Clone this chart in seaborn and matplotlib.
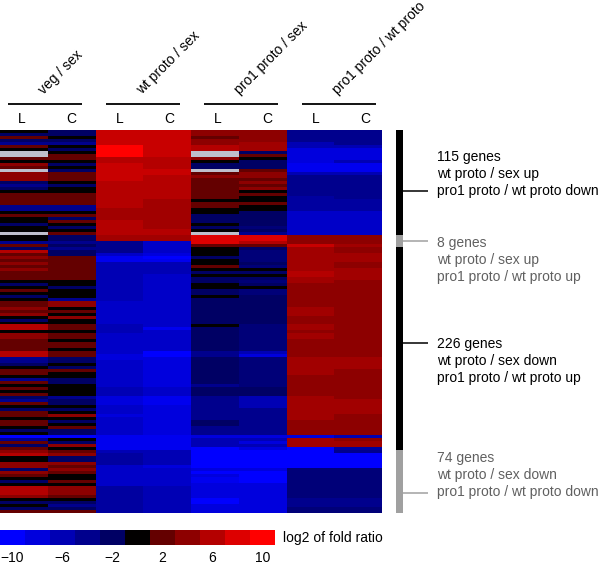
import numpy as np
import matplotlib
matplotlib.use('Agg')
import matplotlib.pyplot as plt
from matplotlib.colors import ListedColormap, LinearSegmentedColormap
import seaborn as sns

nan = np.nan

# log2 fold ratio per row (top to bottom)
veg_L = [0,-2,2,-2,-4,2,0,nan,nan,2,0,4,2,nan,4,4,4,-2,-4,-2,0,
         2,2,2,2,-4,-4,0,2,0,0,-2,0,0,nan,0,0,-4,2,-2,6,2,4,
         2,4,2,4,2,2,2,0,-2,0,2,0,-2,0,2,2,4,2,4,0,-2,0,
         6,6,0,4,4,2,2,2,2,6,6,-4,-4,-2,0,2,2,0,-4,2,0,
         2,0,2,-2,-4,2,0,-2,2,2,0,2,2,0,-2,0,-10,-4,2,-2,2,4,
         6,0,0,4,4,-2,4,2,0,-2,0,6,6,6,4,0,-2,0,-2,2]
veg_C = [-2,-2,0,-2,-4,0,-2,0,2,2,0,-2,0,-2,2,2,2,0,-2,0,0,
         2,2,2,2,-4,-4,0,2,-2,2,0,-2,0,2,-2,-2,-4,-2,-4,-2,-2,2,
         2,2,2,2,2,2,2,0,0,-2,0,0,0,-4,4,4,0,2,0,4,0,0,
         2,2,0,2,2,0,2,2,0,2,2,-2,-2,0,-2,2,0,0,-2,-2,0,
         0,0,0,-4,-2,-2,0,-2,0,4,0,-2,0,2,-2,-2,-10,0,-2,4,0,2,
         4,-2,-2,4,2,4,2,0,0,2,0,4,4,4,2,0,-2,-4,-2,2]
wt_L = [7,7,7,7,7,10,10,10,10,6,6,7,7,7,7,7,7,6,6,6,6,
        6,6,6,6,6,5,5,5,5,6,6,6,6,6,5,5,-4,-4,-4,-4,-7,-9,
        -9,-6,-6,-6,-6,-6,-6,-6,-6,-6,-6,-6,-6,-6,-7,-7,-7,-7,-7,-7,-7,-7,
        -6,-6,-6,-7,-7,-7,-7,-7,-7,-7,-8,-8,-7,-7,-7,-7,-7,-7,-7,-7,-7,
        -6,-6,-6,-8,-8,-8,-7,-7,-7,-8,-7,-7,-7,-7,-7,-7,-9,-9,-9,-9,-9,-6,
        -5,-5,-5,-5,-7,-7,-7,-7,-7,-7,-7,-5,-5,-5,-5,-5,-5,-5,-5,-5]
wt_C = [7,7,7,7,7,7,7,7,7,6,6,6,6,7,7,6,6,6,6,6,6,
        6,6,5,5,5,5,5,5,5,5,5,5,6,6,5,5,-7,-7,-7,-7,-8,-10,
        -9,-6,-6,-6,-6,-7,-7,-7,-7,-7,-7,-7,-7,-7,-7,-7,-7,-7,-7,-7,-7,-7,
        -7,-9,-7,-7,-7,-7,-7,-7,-7,-10,-10,-8,-8,-8,-8,-8,-8,-8,-8,-8,-8,
        -7,-7,-7,-9,-9,-9,-8,-8,-8,-8,-8,-8,-8,-8,-8,-8,-9,-9,-9,-9,-9,-6,
        -6,-6,-6,-6,-8,-7,-7,-7,-7,-7,-7,-6,-6,-6,-6,-6,-6,-6,-6,-6]
pro1_L = [4,4,2,4,4,6,6,nan,nan,4,0,-2,-2,nan,2,4,2,2,2,2,2,
          2,2,0,2,2,0,0,-2,-2,-2,0,-2,0,nan,8,8,8,2,0,0,0,-2,
          0,0,2,0,-2,0,-2,-2,0,0,-2,-2,0,-2,-2,-2,-2,-2,-2,-2,-2,-2,
          0,-2,-2,-2,-2,-2,-2,-2,-2,-4,-4,-2,-2,-2,-2,-2,-2,-2,-2,-2,-4,
          -2,-2,-2,-4,-4,-4,-4,-4,-4,-4,-4,-2,-2,-4,-4,-4,-8,-6,-6,-6,-10,-10,
          -10,-10,-10,-10,-10,-8,-10,-8,-9,-9,-8,-8,-8,-8,-8,-10,-10,-8,-8,-8]
pro1_C = [4,4,4,4,5,5,5,-2,2,0,-2,-2,-2,2,4,4,2,4,2,4,0,
          2,0,0,2,0,0,-2,-2,-2,-2,-2,-3,-2,-4,8,8,6,2,-2,-3,-3,-3,
          -3,-2,-3,0,-2,0,-2,-3,-2,0,-3,-3,-2,-2,-2,-2,-2,-2,-2,-2,-2,-2,
          -3,-3,-3,-3,-3,-3,-3,-3,-3,-6,-8,-3,-3,-3,-3,-3,-3,-3,-3,-3,-3,
          -2,-2,-2,-6,-6,-6,-6,-4,-4,-4,-4,-4,-4,-4,-4,-4,-8,-6,-8,-6,-8,-10,
          -10,-10,-10,-10,-10,-8,-10,-10,-10,-10,-8,-8,-8,-8,-8,-8,-8,-8,-8,-8]
pro1wt_L = [-4,-4,-4,-4,-6,-6,-8,-8,-8,-8,-8,-9,-9,-9,-6,-4,-4,-4,-4,-4,-4,
            -4,-5,-5,-5,-5,-5,-7,-7,-7,-7,-7,-7,-7,-7,4,4,4,7,5,5,5,5,
            5,5,5,5,6,6,5,5,4,4,4,4,4,4,4,4,5,5,5,4,4,4,
            5,5,4,5,5,4,4,4,4,4,4,5,5,5,5,5,5,4,4,4,4,
            4,4,4,5,5,5,5,5,5,5,5,4,4,4,4,4,-8,5,5,5,-10,-10,
            -10,-10,-10,-10,-10,-3,-3,-3,-3,-3,-3,-3,-3,-3,-3,-4,-4,-4,-3,-3]
pro1wt_C = [-4,-4,-4,-4,-4,-6,-8,-8,-8,-8,-6,-9,-9,-9,-6,-4,-4,-4,-4,-4,-4,
            -4,-4,-5,-5,-5,-5,-7,-7,-7,-7,-7,-7,-7,-7,4,4,4,5,4,4,5,5,
            5,4,4,5,5,5,5,4,4,4,4,4,4,4,4,4,4,4,4,4,4,4,
            4,4,4,4,4,4,4,4,4,4,4,5,5,5,5,4,4,4,4,4,4,
            4,4,4,4,5,5,5,5,5,4,4,4,4,4,4,4,-6,4,5,5,-5,-4,
            -10,-10,-10,-10,-10,-3,-3,-3,-3,-3,-3,-3,-3,-3,-3,-4,-4,-4,-3,-3]

columns = [veg_L, veg_C, wt_L, wt_C, pro1_L, pro1_C, pro1wt_L, pro1wt_C]
group_names = ['veg / sex', 'wt proto / sex', 'pro1 proto / sex', 'pro1 proto / wt proto']
scale_levels = [-10, -8, -6, -4, -2, 0, 2, 4, 6, 8, 10]
scale_ticks = [-10, -6, -2, 2, 6, 10]
cluster_rows = [35, 4, 68, 21]  # heatmap rows in each cluster
cluster_text = [['115 genes', 'wt proto / sex up', 'pro1 proto / wt proto down'],
                ['8 genes', 'wt proto / sex up', 'pro1 proto / wt proto up'],
                ['226 genes', 'wt proto / sex down', 'pro1 proto / wt proto up'],
                ['74 genes', 'wt proto / sex down', 'pro1 proto / wt proto down']]

W, H = 600, 567
plt.rcParams['font.family'] = ['Liberation Sans', 'DejaVu Sans']
fig = plt.figure(figsize=(W / 100, H / 100), dpi=100)


def pix_axes(x0, y0, x1, y1):
    return fig.add_axes([x0 / W, 1 - y1 / H, (x1 - x0) / W, (y1 - y0) / H])


# blue - black - red, same colours at the scale levels
steps = [255, 220, 180, 140, 100]
colors = [(0, 0, s / 255) for s in steps] + [(0, 0, 0)] + [(s / 255, 0, 0) for s in steps[::-1]]
cmap = LinearSegmentedColormap.from_list('fold', [((lv + 10) / 20, c) for lv, c in zip(scale_levels, colors)], N=256)
cmap.set_bad((0.75, 0.75, 0.8))

# main heatmap
ax = pix_axes(0, 130, 382, 513)
matrix = np.array(columns, dtype=float).T
sns.heatmap(matrix, ax=ax, cmap=cmap, vmin=-10, vmax=10, cbar=False,
            xticklabels=False, yticklabels=False)

# cluster strip on the right
ax_side = pix_axes(396, 130, 403, 513)
strip = np.repeat([0, 1, 0, 1], cluster_rows).reshape(-1, 1)
sns.heatmap(strip, ax=ax_side, cmap=ListedColormap(['black', '#a0a0a0']), cbar=False,
            xticklabels=False, yticklabels=False)

# colour scale
ax_bar = pix_axes(0, 530, 275, 545)
sns.heatmap(np.array([scale_levels]), ax=ax_bar, cmap=cmap, vmin=-10, vmax=10, cbar=False,
            xticklabels=False, yticklabels=False)

# overlay in pixel coordinates for text and rules
ov = fig.add_axes([0, 0, 1, 1])
ov.set_xlim(0, W)
ov.set_ylim(H, 0)
ov.axis('off')
ov.patch.set_alpha(0)

fs = 10
for i, name in enumerate(group_names):
    x = 8 + i * 98
    ov.plot([x, x + 74], [104, 104], color='black', lw=1.3, solid_capstyle='butt')
    ov.text(x + 14, 119, 'L', ha='center', va='center', fontsize=fs)
    ov.text(x + 63, 119, 'C', ha='center', va='center', fontsize=fs)
    ov.text(x + 38, 97, name, rotation=45, rotation_mode='anchor', ha='left', va='bottom', fontsize=fs)

line_y = [191, 241, 343, 493]
text_y = [157, 243, 344, 458]
for i, lines in enumerate(cluster_text):
    col = 'black' if i % 2 == 0 else '#a0a0a0'
    tcol = 'black' if i % 2 == 0 else '#606060'
    ov.plot([403, 428], [line_y[i], line_y[i]], color=col, lw=1.1, solid_capstyle='butt')
    for j, line in enumerate(lines):
        ov.text(437, text_y[i] + j * 17, line, color=tcol, ha='left', va='center', fontsize=fs)

ov.text(283, 538, 'log2 of fold ratio', ha='left', va='center', fontsize=fs)
for t in scale_ticks:
    x = (t + 11) / 22 * 275
    ov.text(x, 558, str(t).replace('-', '\u2212'), ha='center', va='center', fontsize=fs)

fig.savefig('out.png', dpi=100)
